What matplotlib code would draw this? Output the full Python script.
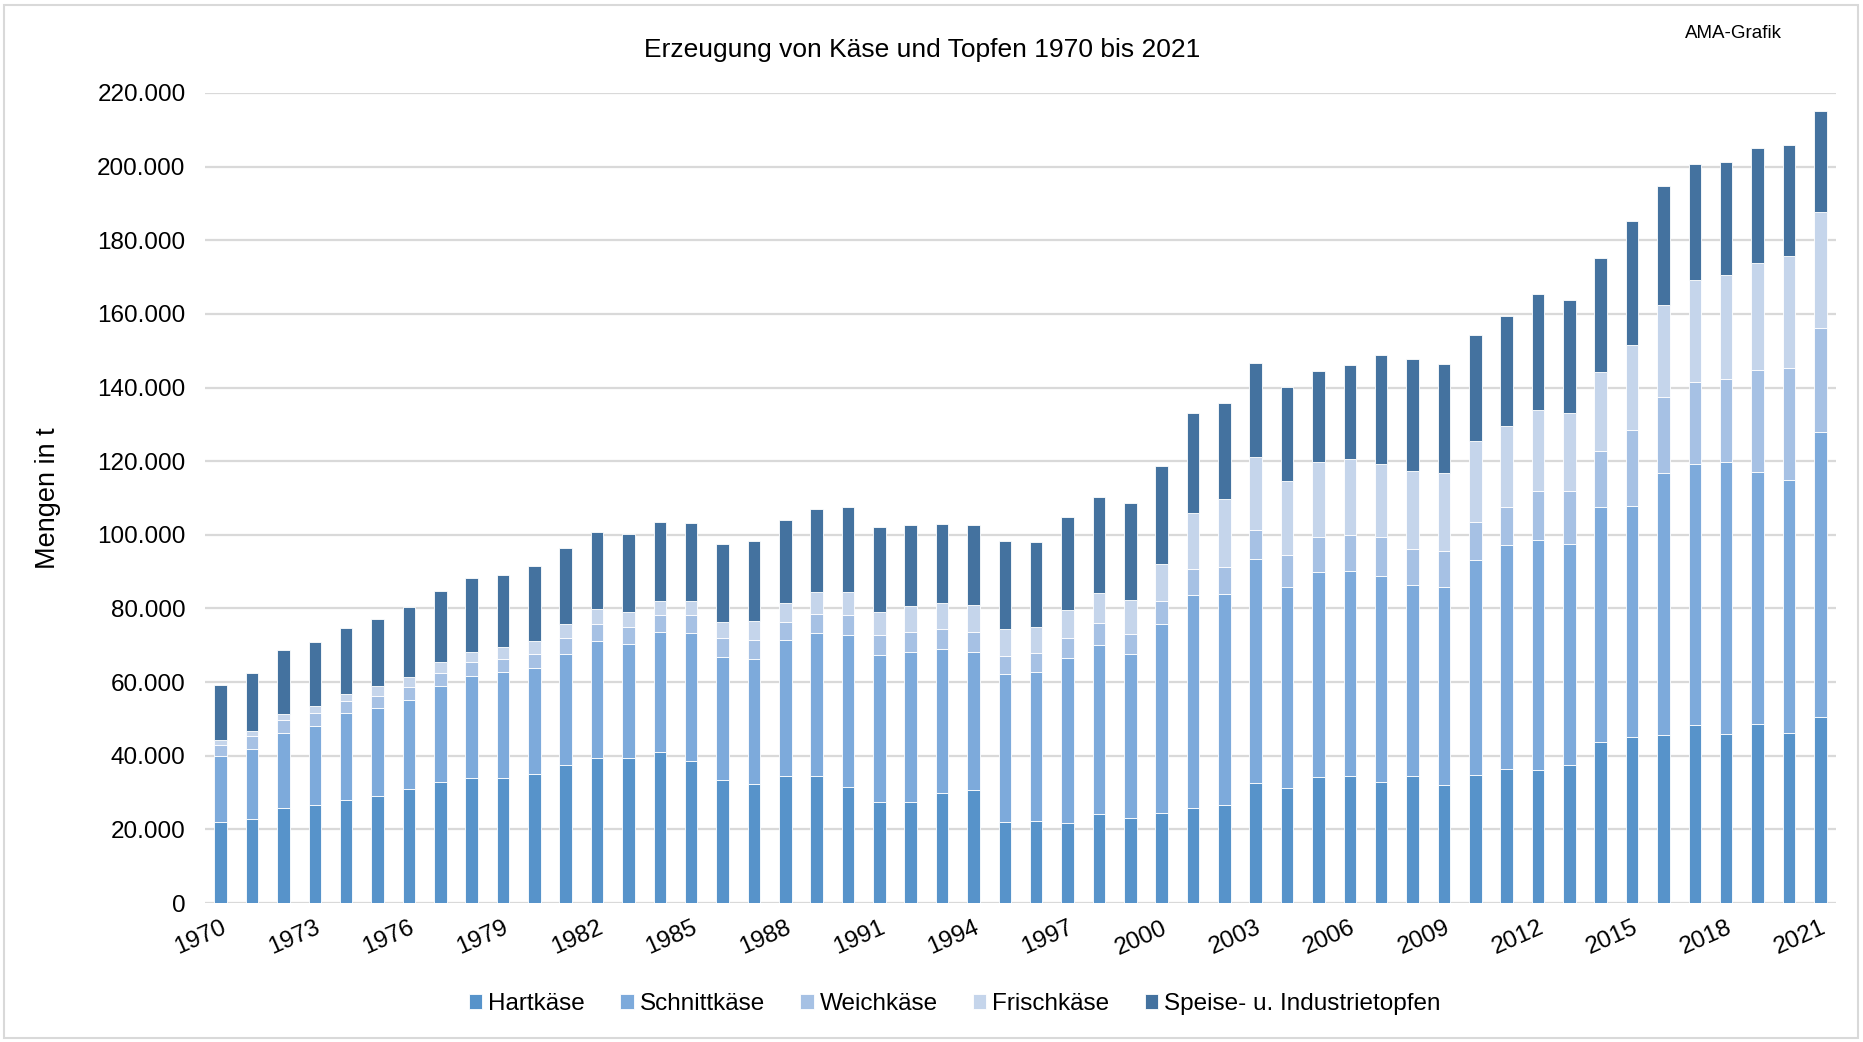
import matplotlib
matplotlib.use("Agg")
import matplotlib.pyplot as plt
from matplotlib.patches import Rectangle
from matplotlib.ticker import FuncFormatter
import numpy as np

years = list(range(1970, 2022))

hartkaese = [22000, 22700, 25800, 26600, 27900, 29000, 30900, 32800, 33900, 33900,
             35100, 37400, 39300, 39300, 40900, 38700, 33300, 32300, 34400, 34500,
             31400, 27400, 27300, 30000, 30800, 22000, 22400, 21800, 24100, 23200,
             24500, 25800, 26700, 32600, 31300, 34200, 34500, 32800, 34500, 32100,
             34700, 36500, 36200, 37400, 43800, 45100, 45700, 48400, 46000, 48700,
             46300, 50600]
schnittkaese = [17900, 19200, 20300, 21600, 23600, 23900, 24200, 26100, 27700, 28900,
                28600, 30100, 31900, 31100, 32800, 34700, 33600, 34100, 36900, 38800,
                41300, 40000, 41000, 39000, 37500, 40200, 40400, 44800, 46100, 44300,
                51200, 57900, 57200, 60800, 54500, 55700, 55600, 55900, 51800, 53700,
                58500, 60600, 62500, 60200, 63800, 62800, 71000, 70700, 73800, 68400,
                68700, 77400]
weichkaese = [2900, 3400, 3500, 3300, 3300, 3400, 3500, 3500, 3800, 3600,
              4000, 4500, 4600, 4500, 4400, 4700, 5000, 5100, 4900, 5300,
              5400, 5300, 5300, 5300, 5400, 5000, 5200, 5500, 5900, 5500,
              6300, 7100, 7400, 7800, 8700, 9600, 9900, 10800, 9900, 9900,
              10200, 10500, 13100, 14300, 15300, 20700, 20700, 22400, 22500, 27800,
              30400, 28200]
frischkaese = [1400, 1300, 1600, 1900, 2100, 2600, 2800, 3000, 2900, 3200,
               3500, 3800, 4000, 4100, 4000, 3900, 4300, 5100, 5300, 6000,
               6300, 6400, 7000, 7100, 7200, 7300, 7000, 7400, 8100, 9200,
               10200, 15100, 18300, 20000, 20200, 20200, 20500, 19600, 21000, 21000,
               22100, 22000, 22000, 21200, 21400, 22900, 25000, 27800, 28300, 28800,
               30300, 31600]
topfen = [15100, 16000, 17600, 17500, 17900, 18100, 19100, 19400, 19900, 19500,
          20400, 20700, 20900, 21200, 21300, 21300, 21300, 21700, 22500, 22500,
          23100, 22900, 22200, 21600, 21700, 23900, 23000, 25300, 26100, 26500,
          26400, 27100, 26300, 25600, 25400, 24800, 25600, 29700, 30600, 29700,
          28800, 29900, 31600, 30600, 31000, 33700, 32300, 31300, 30700, 31400,
          30200, 27300]

series_names = ["Hartkäse", "Schnittkäse", "Weichkäse", "Frischkäse",
                "Speise- u. Industrietopfen"]
series = [hartkaese, schnittkaese, weichkaese, frischkaese, topfen]
colors = ["#5793CA", "#7DAADB", "#A6C1E4", "#C5D5EB", "#44729F"]

plt.rcParams['font.family'] = ['Liberation Sans', 'DejaVu Sans']

fig = plt.figure(figsize=(18.63, 10.42), dpi=100)
ax = fig.add_axes([205 / 1863, 1 - 903 / 1042, (1836 - 205) / 1863, (903 - 93) / 1042])

x = np.arange(len(years))
bottom = np.zeros(len(years))
handles = []
for name, vals, c in zip(series_names, series, colors):
    v = np.array(vals, dtype=float)
    b = ax.bar(x, v, bottom=bottom, width=0.4, color=c, edgecolor="white",
               linewidth=0.6, label=name, zorder=3)
    handles.append(b)
    bottom += v

ax.set_xlim(-0.5, len(years) - 0.5)
ax.set_ylim(0, 220000)
ax.set_yticks(np.arange(0, 220001, 20000))
ax.yaxis.set_major_formatter(FuncFormatter(lambda v, p: f"{int(v):,}".replace(",", ".")))
ax.grid(axis="y", color="#D9D9D9", linewidth=1.6, zorder=0)
ax.set_axisbelow(True)
for s in ax.spines.values():
    s.set_visible(False)

tick_idx = [i for i, y in enumerate(years) if (y - 1970) % 3 == 0]
ax.set_xticks(tick_idx)
ax.set_xticklabels([str(years[i]) for i in tick_idx], rotation=24, ha="right",
                   rotation_mode="anchor", fontsize=17.5)
ax.tick_params(axis="x", length=0, pad=10)
ax.tick_params(axis="y", length=0, pad=14, labelsize=17.5)

ax.set_ylabel("Mengen in t", fontsize=19.5)
ax.yaxis.set_label_coords(-0.088, 0.5)

fig.text(0.495, 0.952, "Erzeugung von Käse und Topfen 1970 bis 2021", ha="center",
         va="center", fontsize=19)
fig.text(0.9045, 0.968, "AMA-Grafik", ha="left", va="center", fontsize=13.5)

leg = fig.legend(handles=handles, labels=series_names, loc="center",
                 bbox_to_anchor=(0.5125, 0.0365), ncol=5, frameon=False, fontsize=17.5,
                 handlelength=0.55, handleheight=0.55, handletextpad=0.25,
                 columnspacing=1.45)

fig.patches.append(Rectangle((4 / 1863, 4 / 1042), 1 - 9 / 1863, 1 - 9 / 1042,
                             transform=fig.transFigure, fill=False,
                             edgecolor="#D9D9D9", linewidth=1.5))

fig.savefig("out.png", dpi=100, facecolor="white")
